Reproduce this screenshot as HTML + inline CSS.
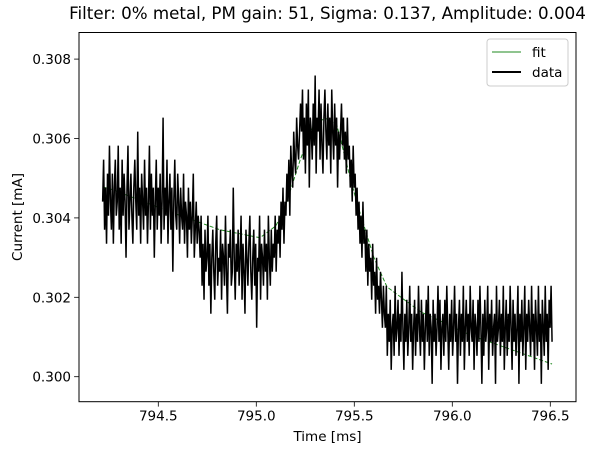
<!DOCTYPE html>
<html><head><meta charset="utf-8">
<style>
html,body{margin:0;padding:0;background:#fff;}
svg{display:block;font-family:"DejaVu Sans","Liberation Sans",sans-serif;}
</style></head>
<body>
<svg id="chart" width="594" height="455" viewBox="0 0 594 455" xmlns="http://www.w3.org/2000/svg"></svg>
<script>
// ---- data ----
const tStart = 794.216;
const tEnd = 796.509;
const countOffset = 0.29982;   // mA at count 0
const countStep = 0.000353;    // mA per ADC count
const dataCounts = [
13,16,11,14,10,15,12,17,13,11,15,10,14,16,12,13,17,11,14,10,
16,12,15,13,9,14,17,11,13,15,12,10,14,16,13,11,18,12,14,10,
15,13,11,16,12,14,10,13,17,11,15,12,14,9,13,16,11,14,12,15,
10,13,19,11,14,12,16,10,13,15,11,14,8,13,16,12,11,15,13,10,
14,12,11,15,10,13,12,9,14,11,13,10,12,15,9,11,13,10,12,11,
9,12,7,10,6,11,8,9,12,7,10,5,9,11,8,6,10,12,7,9,
8,11,6,10,9,7,12,8,5,10,9,11,7,8,14,9,6,10,8,11,
7,9,12,6,10,8,5,11,9,7,10,12,8,6,9,11,7,10,4,9,
8,12,6,10,9,7,11,8,10,6,12,9,7,11,8,10,9,12,8,11,
10,12,9,13,11,14,10,13,12,15,13,16,12,17,15,14,18,16,15,19,17,16,18,20,
18,21,16,19,15,20,17,21,14,19,18,16,20,17,22,15,19,18,21,16,
20,17,15,19,21,18,16,20,17,19,15,21,18,16,20,17,19,14,18,16,
18,20,17,19,16,18,15,19,16,17,14,16,13,17,14,15,12,14,11,13,10,12,9,13,10,11,8,11,7,10,8,9,6,10,7,8,5,9,6,7,5,8,6,4,7,5,
4,7,2,5,3,6,1,4,5,2,7,3,4,6,2,5,3,8,4,1,
5,3,6,2,4,7,3,5,1,4,6,2,5,3,7,4,2,6,3,5,
1,4,6,3,7,2,5,4,0,6,3,5,2,4,7,3,6,1,4,5,
2,6,3,7,4,1,5,3,6,2,4,7,3,5,0,4,6,2,5,3,
7,1,4,6,3,5,2,7,4,3,6,1,5,4,2,6,3,7,4,0,
5,2,6,3,4,7,1,5,3,6,2,4,5,0,7,3,4,6,2,5,
3,7,1,4,6,2,5,3,7,4,1,6,3,5,2,4,7,0,5,3,
6,2,4,7,1,5,3,6,4,2,7,3,5,1,6,4,2,7,3,5,
0,6,4,2,7,3,5,1,6,4,7,3
];
const fitTimes = [794.216,794.274,794.534,794.815,795.019,795.100,795.147,795.224,795.289,795.350,795.411,795.478,795.514,795.600,795.667,795.840,796.090,796.509];
const fitValues = [0.30478,0.30470,0.30420,0.30370,0.30350,0.30380,0.30428,0.30546,0.30629,0.30652,0.30634,0.30503,0.30437,0.30300,0.30226,0.30163,0.30105,0.30032];
const xTicks = [794.5,795.0,795.5,796.0,796.5];
const xTickLabels = ["794.5","795.0","795.5","796.0","796.5"];
const yTicks = [0.300,0.302,0.304,0.306,0.308];
const yTickLabels = ["0.300","0.302","0.304","0.306","0.308"];

// ---- axes geometry ----
const L=79, R=576, T=32.5, B=401.7;
function xs(t){ return 158.3 + (t-794.5)*196; }
function ys(v){ return 376.7 - (v-0.300)*39700; }

const NS="http://www.w3.org/2000/svg";
const svg=document.getElementById('chart');
function mk(tag, attrs, parent){
  const e=document.createElementNS(NS,tag);
  for(const k in attrs) e.setAttribute(k, attrs[k]);
  (parent||svg).appendChild(e); return e;
}

const bg=mk('rect',{x:0,y:0,width:594,height:455,fill:'#fff'});



const defs=mk('defs',{});
const cp=mk('clipPath',{id:'plotclip'},defs);
mk('rect',{x:L,y:T,width:R-L,height:B-T},cp);

let fd='';
for(let i=0;i<fitTimes.length;i++){ fd+=(i?'L':'M')+xs(fitTimes[i]).toFixed(2)+','+ys(fitValues[i]).toFixed(2); }
const fitPath=mk('path',{d:fd,fill:'none',stroke:'#1f8a1f','stroke-width':1,'stroke-dasharray':'4,2','clip-path':'url(#plotclip)'});



const n=dataCounts.length, dt=(tEnd-tStart)/(n-1);
let dd='';
for(let i=0;i<n;i++){
  const v=countOffset+dataCounts[i]*countStep;
  dd+=(i?'L':'M')+xs(tStart+i*dt).toFixed(2)+','+ys(v).toFixed(2);
}
const dataPath=mk('path',{d:dd,fill:'none',stroke:'#000','stroke-width':1.5,'stroke-linejoin':'miter','stroke-miterlimit':2,'clip-path':'url(#plotclip)'});



const frame=mk('rect',{x:L,y:T,width:R-L,height:B-T,fill:'none',stroke:'#000','stroke-width':1});



for(let i=0;i<xTicks.length;i++){
  const x=xs(xTicks[i]);
  const tk=mk('line',{x1:x,x2:x,y1:B,y2:B+4.9,stroke:'#000','stroke-width':0.8});
  
  
  const tx=mk('text',{x:x,y:B+19,'font-size':13.5,'text-anchor':'middle',fill:'#000'});
  tx.textContent=xTickLabels[i];
  
  
}
for(let i=0;i<yTicks.length;i++){
  const y=ys(yTicks[i]);
  const tk=mk('line',{x1:L-4.9,x2:L,y1:y,y2:y,stroke:'#000','stroke-width':0.8});
  
  
  const tx=mk('text',{x:L-8,y:y+5,'font-size':13.5,'text-anchor':'end',fill:'#000'});
  tx.textContent=yTickLabels[i];
  
  
}
</script>
<script>
(function(){
const NS="http://www.w3.org/2000/svg";
const svg=document.getElementById('chart');
function mk(tag, attrs){ const e=document.createElementNS(NS,tag); for(const k in attrs) e.setAttribute(k,attrs[k]); svg.appendChild(e); return e; }
const title=mk('text',{x:327.5,y:19,'font-size':16.7,'text-anchor':'middle',fill:'#000'});
title.textContent='Filter: 0% metal, PM gain: 51, Sigma: 0.137, Amplitude: 0.004';


const xl=mk('text',{x:327.5,y:441,'font-size':13.5,'text-anchor':'middle',fill:'#000'});
xl.textContent='Time [ms]';


const yl=mk('text',{x:0,y:0,'font-size':13.5,'text-anchor':'middle',fill:'#000',transform:'translate(22,217) rotate(-90)'});
yl.textContent='Current [mA]';


const lg=mk('rect',{x:487,y:39,width:81,height:47,rx:3,fill:'#fff','fill-opacity':0.8,stroke:'#ccc','stroke-width':1});


const l1=mk('line',{x1:492,x2:521,y1:52,y2:52,stroke:'#1f8a1f','stroke-width':1});


const t1=mk('text',{x:532,y:57,'font-size':13.5,fill:'#000'});
t1.textContent='fit';


const l2=mk('line',{x1:492,x2:521,y1:72,y2:72,stroke:'#000','stroke-width':2});


const t2=mk('text',{x:532,y:77,'font-size':13.5,fill:'#000'});
t2.textContent='data';


})();
</script>
</body></html>
